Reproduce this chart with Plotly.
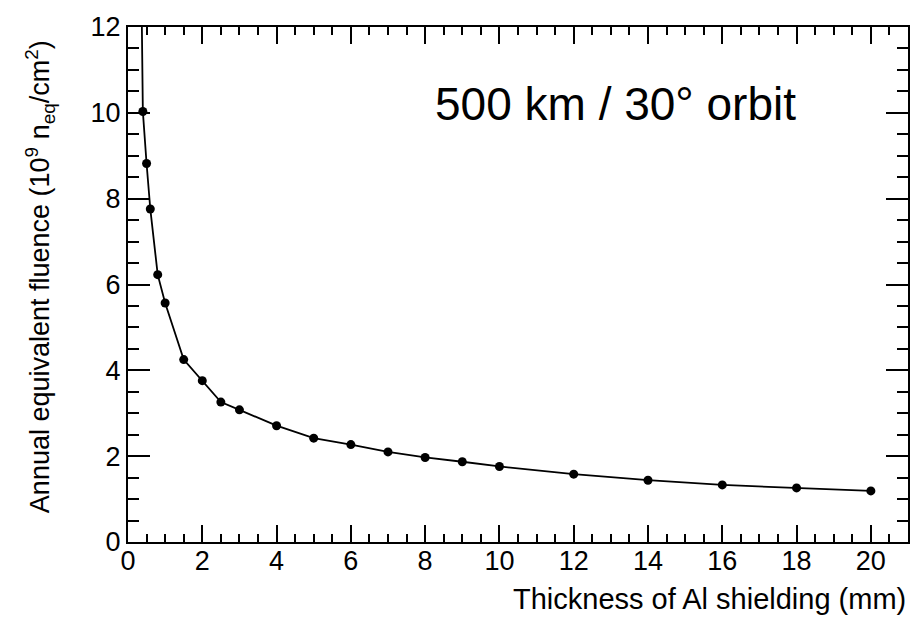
import plotly.graph_objects as go

# Data
thickness_mm = [0.3, 0.4, 0.5, 0.6, 0.8, 1.0, 1.5, 2, 2.5, 3, 4, 5, 6, 7, 8, 9, 10, 12, 14, 16, 18, 20]
fluence_1e9 = [17.5, 10.03, 8.82, 7.76, 6.23, 5.57, 4.25, 3.76, 3.26, 3.08, 2.71, 2.42, 2.27,
               2.10, 1.97, 1.87, 1.76, 1.58, 1.44, 1.33, 1.26, 1.19]

x_ticks = [0, 2, 4, 6, 8, 10, 12, 14, 16, 18, 20]
y_ticks = [0, 2, 4, 6, 8, 10, 12]
x_range = [0, 21]
y_range = [0, 12]

W, H = 923, 619
L, R, T, B = 128, 15, 17, 77
pw = W - L - R
ph = H - T - B

def px_x(p):
    return (p - L) / pw

def px_y(p):
    return (H - B - p) / ph

FONT = "Liberation Sans, Arial, Helvetica, sans-serif"
TICK_SIZE = 27

fig = go.Figure()
fig.add_trace(go.Scatter(
    x=thickness_mm, y=fluence_1e9, mode="lines+markers",
    line=dict(color="black", width=1.8),
    marker=dict(color="black", size=9, symbol="circle"),
    cliponaxis=True, showlegend=False,
))
# invisible companion trace so the mirrored (top/right) tick axes are drawn
fig.add_trace(go.Scatter(
    x=thickness_mm, y=fluence_1e9, xaxis="x2", yaxis="y2", mode="markers",
    marker=dict(opacity=0), hoverinfo="skip", showlegend=False,
))

def axis_style(showlabels, major_len, minor_len):
    return dict(
        showgrid=False, zeroline=False, showline=True, linecolor="black", linewidth=2,
        ticks="inside", tickcolor="black", tickwidth=2, ticklen=major_len,
        showticklabels=showlabels,
        tickfont=dict(family=FONT, size=TICK_SIZE, color="black"),
        minor=dict(dtick=0.5, tick0=0, ticks="inside", ticklen=minor_len,
                   tickcolor="black", tickwidth=2),
    )

fig.update_layout(
    font=dict(family=FONT, size=TICK_SIZE, color="black"),
    xaxis=dict(range=x_range, tickvals=x_ticks, ticktext=[str(v) for v in x_ticks],
               ticklabelstandoff=-6, **axis_style(True, 17, 8)),
    yaxis=dict(range=y_range, tickvals=y_ticks, ticktext=[str(v) for v in y_ticks],
               **axis_style(True, 22, 11)),
    xaxis2=dict(range=x_range, tickvals=x_ticks, overlaying="x", side="top", anchor="y",
                **axis_style(False, 17, 8)),
    yaxis2=dict(range=y_range, tickvals=y_ticks, overlaying="y", side="right", anchor="x",
                **axis_style(False, 22, 11)),
)

fig.add_annotation(text="500 km / 30° orbit", xref="paper", yref="paper",
                   x=px_x(433), y=px_y(95), xanchor="left", yanchor="middle",
                   showarrow=False, font=dict(family=FONT, size=46, color="black"))
fig.add_annotation(text="Thickness of Al shielding (mm)", xref="paper", yref="paper",
                   x=px_x(908), y=px_y(600), xanchor="right", yanchor="middle",
                   showarrow=False, font=dict(family=FONT, size=29, color="black"))
fig.add_annotation(text="Annual equivalent fluence (10<sup>9</sup> n<sub>eq</sub>/cm<sup>2</sup>)",
                   xref="paper", yref="paper", x=px_x(40), y=px_y(272),
                   xanchor="center", yanchor="middle", textangle=-90,
                   showarrow=False, font=dict(family=FONT, size=27, color="black"))

fig.update_layout(width=W, height=H, margin=dict(l=L, r=R, t=T, b=B, pad=0),
                  paper_bgcolor="white", plot_bgcolor="white")

fig.write_html("out.html")
